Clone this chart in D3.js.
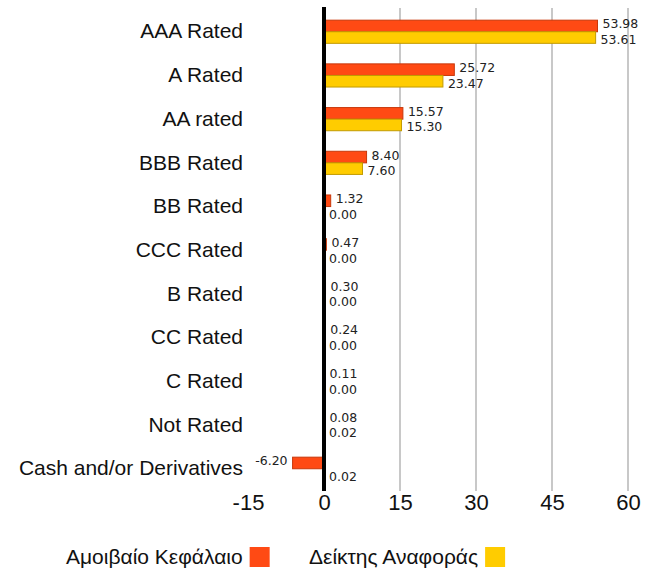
<!DOCTYPE html>
<html>
<head>
<meta charset="utf-8">
<script src="https://cdnjs.cloudflare.com/ajax/libs/d3/7.8.5/d3.min.js"></script>
<style>
body { margin: 0; background: #fff; }
text { font-family: "Liberation Sans", Arial, sans-serif; }
</style>
</head>
<body>
<script>
// chart data
var categories = ["AAA Rated", "A Rated", "AA rated", "BBB Rated", "BB Rated", "CCC Rated",
	"B Rated", "CC Rated", "C Rated", "Not Rated", "Cash and/or Derivatives"];
var fundValues = [53.98, 25.72, 15.57, 8.40, 1.32, 0.47, 0.30, 0.24, 0.11, 0.08, -6.20];
var benchValues = [53.61, 23.47, 15.30, 7.60, 0.00, 0.00, 0.00, 0.00, 0.00, 0.02, 0.02];
var seriesNames = ["Αμοιβαίο Κεφάλαιο", "Δείκτης Αναφοράς"];
var tickValues = [-15, 0, 15, 30, 45, 60];

window.onload = function(){
	var w = 656, h = 574;
	var colors = ["#ff4a14", "#ffcc00"];
	var strokes = ["#c8380a", "#c29b00"];

	// plain hyphen instead of unicode minus
	var fmt2 = function(v){ return d3.format(".2f")(v).replace("\u2212", "-"); };
	var fmtInt = function(v){ return d3.format("d")(v).replace("\u2212", "-"); };

	var svg = d3.select("body")
		.append("svg")
		.attr("width", w)
		.attr("height", h);

	var x = d3.scaleLinear()
		.domain([-15, 60])
		.range([248, 628]);

	var y = d3.scaleBand()
		.domain(categories)
		.range([9.9, 490.6])
		.paddingInner(0.47)
		.paddingOuter(0.235);

	var sub = d3.scaleBand()
		.domain([0, 1])
		.range([0, y.bandwidth()]);

	// grid lines (positive ticks only)
	svg.selectAll(".grid")
		.data(tickValues.filter(function(d){ return d > 0; }))
		.enter()
		.append("line")
		.attr("class", "grid")
		.attr("x1", function(d){ return x(d); })
		.attr("x2", function(d){ return x(d); })
		.attr("y1", 8)
		.attr("y2", 491)
		.style("stroke", "#c8c8c8")
		.style("stroke-width", 2);

	// x axis labels
	var xAxis = d3.axisBottom(x)
		.tickValues(tickValues)
		.tickSize(0)
		.tickPadding(0)
		.tickFormat(fmtInt);
	var gx = svg.append("g")
		.attr("transform", "translate(0, 493)")
		.call(xAxis);
	gx.select(".domain").remove();
	gx.selectAll("text")
		.attr("dy", "0.78em")
		.style("font-size", "22px")
		.style("font-family", "'Liberation Sans', Arial, sans-serif")
		.style("fill", "#111");

	// category labels
	var yAxis = d3.axisLeft(y)
		.tickSize(0)
		.tickPadding(0);
	var gy = svg.append("g")
		.attr("transform", "translate(243, 0)")
		.call(yAxis);
	gy.select(".domain").remove();
	gy.selectAll("text")
		.style("font-size", "21px")
		.style("font-family", "'Liberation Sans', Arial, sans-serif")
		.style("fill", "#111");

	var rows = categories.map(function(c, i){
		return { cat: c, vals: [fundValues[i], benchValues[i]] };
	});

	var groups = svg.selectAll(".row")
		.data(rows)
		.enter()
		.append("g")
		.attr("class", "row")
		.attr("transform", function(d){ return "translate(0," + y(d.cat) + ")"; });

	var bars = groups.selectAll(".bar")
		.data(function(d){ return d.vals.map(function(v, k){ return { v: v, k: k }; }); })
		.enter();

	bars.append("rect")
		.attr("class", "bar")
		.attr("x", function(d){ return x(Math.min(0, d.v)); })
		.attr("y", function(d){ return sub(d.k); })
		.attr("width", function(d){ return Math.abs(x(d.v) - x(0)); })
		.attr("height", sub.bandwidth())
		.style("fill", function(d){ return colors[d.k]; })
		.style("stroke", function(d){ return d.v === 0 ? "none" : strokes[d.k]; })
		.style("stroke-width", 1);

	bars.append("text")
		.attr("x", function(d){ return d.v < 0 ? x(d.v) - 5 : x(d.v) + 5; })
		.attr("y", function(d){ return sub(d.k) + sub.bandwidth() / 2 + (d.k === 0 ? -2 : 2); })
		.attr("dy", "0.36em")
		.attr("text-anchor", function(d){ return d.v < 0 ? "end" : "start"; })
		.style("font-size", "12.5px")
		.style("font-family", "'DejaVu Sans', Verdana, sans-serif")
		.style("fill", "#222")
		.text(function(d){ return fmt2(d.v); });

	// zero line
	svg.append("line")
		.attr("x1", x(0))
		.attr("x2", x(0))
		.attr("y1", 7)
		.attr("y2", 491)
		.style("stroke", "#000")
		.style("stroke-width", 4);

	// legend
	var legendX = [66, 309];
	var legend = svg.selectAll(".legend")
		.data(seriesNames)
		.enter()
		.append("g")
		.attr("class", "legend");
	legend.append("text")
		.attr("x", function(d, i){ return legendX[i]; })
		.attr("y", 564)
		.style("font-size", "21px")
		.style("fill", "#111")
		.text(function(d){ return d; })
		.each(function(d, i){
			var bb = this.getBBox();
			d3.select(this.parentNode).append("rect")
				.attr("x", bb.x + bb.width + 7)
				.attr("y", 547)
				.attr("width", 20)
				.attr("height", 20)
				.style("fill", colors[i]);
		});
};
</script>
</body>
</html>
